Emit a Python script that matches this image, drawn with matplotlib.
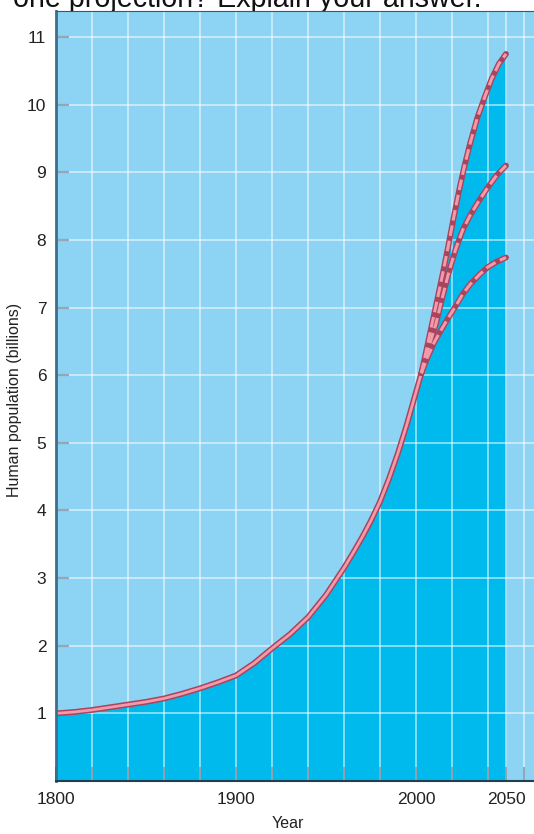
import matplotlib
matplotlib.use("Agg")
import matplotlib.pyplot as plt
import matplotlib.patheffects as pe

plt.rcParams['font.family'] = ['Liberation Sans', 'DejaVu Sans']

# historical population (billions)
years_hist = [1800, 1810, 1820, 1830, 1840, 1850, 1860, 1870, 1880, 1890, 1900,
              1910, 1920, 1930, 1940, 1950, 1960, 1965, 1970, 1975, 1980, 1985,
              1990, 1995, 2000, 2003]
pop_hist = [1.0, 1.02, 1.05, 1.09, 1.13, 1.17, 1.22, 1.29, 1.37, 1.46, 1.56,
            1.74, 1.96, 2.17, 2.42, 2.75, 3.15, 3.37, 3.6, 3.85, 4.13, 4.47,
            4.85, 5.28, 5.75, 6.03]

# projections to 2050
high_years = [2003, 2006, 2009, 2012, 2015, 2018, 2021, 2024, 2027, 2030, 2034, 2038, 2042, 2046, 2050]
high_pop = [6.03, 6.4, 6.77, 7.14, 7.52, 7.92, 8.34, 8.74, 9.1, 9.42, 9.8, 10.1, 10.38, 10.6, 10.75]
mid_years = [2003, 2007, 2011, 2014, 2018, 2022, 2026, 2030, 2035, 2040, 2045, 2050]
mid_pop = [6.03, 6.41, 6.75, 7.08, 7.5, 7.86, 8.15, 8.36, 8.58, 8.78, 8.96, 9.1]
low_years = [2003, 2006, 2010, 2014, 2018, 2022, 2026, 2030, 2035, 2040, 2045, 2050]
low_pop = [6.03, 6.24, 6.48, 6.67, 6.85, 7.02, 7.2, 7.34, 7.48, 7.6, 7.68, 7.74]

grid_years = [1820, 1840, 1860, 1880, 1900, 1920, 1940, 1960, 1980, 2000, 2020, 2040, 2050, 2060]
label_years = {1800: '1800', 1900: '1900', 2000: '2000', 2050: '2050'}
y_ticks = [1, 2, 3, 4, 5, 6, 7, 8, 9, 10, 11]

bg = '#8dd4f4'
fill = '#00baee'
dark = '#a8445e'
pink = '#f39aaa'

fig = plt.figure(figsize=(5.34, 8.34), dpi=100)
fig.text(13 / 534, 1 - 7 / 834, 'one projection? Explain your answer.',
         fontsize=20.6, va='baseline', ha='left', color='#111111', zorder=-1)

ax = fig.add_axes([56 / 534, (834 - 781) / 834, 1 - 56 / 534, (781 - 11) / 834])
ax.set_facecolor(bg)
ax.set_xlim(1800, 1800 + (534 - 56) / 1.8)
ax.set_ylim(0, (780.6 - 11) / 67.6)

# filled area under the history + high projection
fill_x = years_hist + high_years[1:]
fill_y = pop_hist + high_pop[1:]
ax.fill_between(fill_x, 0, fill_y, color=fill, lw=0, zorder=1)

# grid
for g in grid_years:
    ax.axvline(g, color='white', alpha=0.6, lw=1.2, zorder=2)
for t in y_ticks:
    ax.axhline(t, color='white', alpha=0.6, lw=1.2, zorder=2)

# history curve
ax.plot(years_hist, pop_hist, color=pink, lw=2.0, zorder=4, solid_capstyle='round',
        path_effects=[pe.Stroke(linewidth=4.2, foreground=dark), pe.Normal()])

# projections: dark line with pink dashes
for xs, ys in [(low_years, low_pop), (mid_years, mid_pop), (high_years, high_pop)]:
    ax.plot(xs, ys, color=dark, lw=4.2, zorder=4, solid_capstyle='round')
    ax.plot(xs, ys, color=pink, lw=2.2, zorder=5, dashes=(3.5, 1.6))

# axes styling
ax.spines['right'].set_visible(False)
ax.spines['top'].set_color('#2f5a72')
ax.spines['top'].set_linewidth(0.8)
ax.spines['left'].set_color('#3d6f8c')
ax.spines['left'].set_linewidth(2)
ax.spines['bottom'].set_color('#1f3f52')
ax.spines['bottom'].set_linewidth(1.5)
for s in ['left', 'bottom', 'top']:
    ax.spines[s].set_zorder(6)

ax.set_xticks([1800] + grid_years)
ax.set_xticklabels([label_years.get(y, '') for y in [1800] + grid_years])
ax.set_yticks(y_ticks)
ax.set_yticklabels([str(t) for t in y_ticks])
ax.tick_params(axis='x', direction='in', length=10, width=1.3, color='#1f3f52',
               labelsize=12.5, pad=8, labelcolor='#222222')
ax.tick_params(axis='y', direction='in', length=9, width=1.5, color='#2d4f63',
               labelsize=12.5, pad=7, labelcolor='#222222')
for tl in ax.xaxis.get_major_ticks() + ax.yaxis.get_major_ticks():
    tl.tick1line.set_zorder(6)

ax.set_xlabel('Year', fontsize=11.5, color='#222222', va='center')
ax.xaxis.set_label_coords((288 - 56) / 478, -42 / 770)
ax.set_ylabel('Human population (billions)', fontsize=11.5, color='#222222')
ax.yaxis.set_label_coords(-34 / 478, (781 - 400) / 770)

fig.savefig('out.png', dpi=100)
